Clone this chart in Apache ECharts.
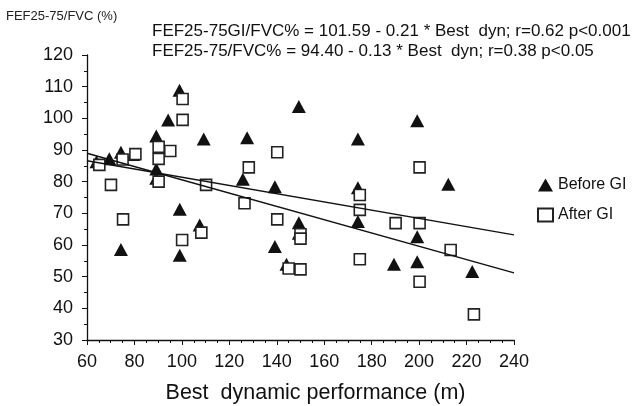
<!DOCTYPE html>
<html>
<head>
<meta charset="utf-8">
<script src="https://cdn.jsdelivr.net/npm/echarts@6/dist/echarts.min.js"></script>
<style>
  html, body { margin: 0; padding: 0; background: #fff; }
  #chart { width: 636px; height: 406px; }
</style>
</head>
<body>
<div id="chart"></div>
<script>
// Before GI (triangles): [best dynamic performance, FEF25-75/FVC %]
const beforeGI = [
  [64, 86.3], [69.4, 87.2], [74.3, 89.3], [79.4, 88.6], [74.3, 58.6],
  [89.2, 94.4], [89.2, 84], [89.2, 81.1], [94.2, 99.5], [99, 108.9],
  [99.1, 71.3], [99.1, 56.8], [107.5, 66.3], [109.2, 93.5],
  [125.7, 80.8], [127.5, 93.9], [139.2, 78.4], [139.2, 59.5], [144.1, 53.9],
  [149.3, 103.7], [149.3, 67], [149.3, 63.7],
  [174.2, 93.5], [174.2, 78.1], [174.2, 67.4],
  [189.4, 53.9], [199.2, 99.2], [199.2, 62.6], [199.2, 54.7],
  [212.3, 79.2], [222.4, 51.6]
];
// After GI (squares)
const afterGI = [
  [65.2, 85.3], [70.1, 79], [75.2, 68.1], [75, 87], [80.4, 88.7],
  [90.2, 91], [90.2, 87.2], [90.2, 80], [95.1, 89.7],
  [100.3, 106.1], [100.3, 99.5], [100.1, 61.6], [108.2, 63.9], [110.2, 79],
  [126.4, 73.2], [128.2, 84.5], [140.2, 89.3], [140.2, 68.1], [145, 52.6],
  [150, 63.4], [150, 62], [150, 52.3],
  [175, 75.8], [175, 71.1], [175, 55.5],
  [190.1, 66.9], [200.2, 84.5], [200.2, 66.9], [200.2, 48.4],
  [213.3, 58.4], [223.1, 38.1]
];
// regression equations printed on the chart: [intercept, slope]
const fitGI = [101.59, -0.21];
const fitPre = [94.40, -0.13];
const fitRange = [60, 240];
const equations = [
  'FEF25-75GI/FVC% = 101.59 - 0.21 * Best  dyn; r=0.62 p<0.001',
  'FEF25-75/FVC% = 94.40 - 0.13 * Best  dyn; r=0.38 p<0.05'
];

function fitLine(fit) {
  return fitRange.map(x => [x, fit[0] + fit[1] * x]);
}

const font = '"Liberation Sans", Arial, sans-serif';
const chart = echarts.init(document.getElementById('chart'));

chart.setOption({
  animation: false,
  title: {
    text: 'FEF25-75/FVC (%)',
    left: 1,
    top: 5,
    textStyle: { fontFamily: font, fontSize: 13, fontWeight: 'normal', color: '#222' }
  },
  graphic: [
    {
      type: 'text', left: 152, top: 23,
      style: { text: equations[0], font: '17px ' + font, fill: '#111' }
    },
    {
      type: 'text', left: 152, top: 43,
      style: { text: equations[1], font: '17px ' + font, fill: '#111' }
    }
  ],
  legend: {
    data: ['Before GI', 'After GI'],
    orient: 'vertical',
    left: 532,
    top: 172,
    itemWidth: 15,
    itemHeight: 13,
    itemGap: 14,
    textStyle: { fontFamily: font, fontSize: 16, color: '#111' }
  },
  grid: { left: 87, right: 122, top: 55, bottom: 66, outerBoundsMode: 'none' },
  xAxis: {
    type: 'value',
    min: 60, max: 240, interval: 20,
    name: 'Best  dynamic performance (m)',
    nameLocation: 'middle',
    nameGap: 42,
    nameTextStyle: { fontFamily: font, fontSize: 21.5, color: '#111', padding: [0, 0, 0, 30] },
    axisLine: { lineStyle: { color: '#111', width: 1.3 } },
    axisTick: { length: 5, lineStyle: { color: '#111' } },
    minorTick: { show: true, splitNumber: 4, length: 3, lineStyle: { color: '#111' } },
    splitLine: { show: false },
    axisLabel: { fontFamily: font, fontSize: 18, color: '#111', margin: 13 }
  },
  yAxis: {
    type: 'value',
    min: 30, max: 120, interval: 10,
    axisLine: { show: true, lineStyle: { color: '#111', width: 1.3 } },
    axisTick: { show: true, length: 5, lineStyle: { color: '#111' } },
    minorTick: { show: true, splitNumber: 2, length: 3, lineStyle: { color: '#111' } },
    splitLine: { show: false },
    axisLabel: { fontFamily: font, fontSize: 18, color: '#111', margin: 14 }
  },
  series: [
    {
      name: 'fitGI', type: 'line', data: fitLine(fitGI),
      symbol: 'none', silent: true,
      lineStyle: { color: '#111', width: 1.5 }
    },
    {
      name: 'fitPre', type: 'line', data: fitLine(fitPre),
      symbol: 'none', silent: true,
      lineStyle: { color: '#111', width: 1.5 }
    },
    {
      name: 'Before GI', type: 'scatter', data: beforeGI,
      symbol: 'triangle', symbolSize: [14, 13],
      itemStyle: { color: '#111', opacity: 1 }
    },
    {
      name: 'After GI', type: 'scatter', data: afterGI,
      symbol: 'rect', symbolSize: [11, 11],
      itemStyle: { color: '#fff', borderColor: '#222', borderWidth: 1.6, opacity: 1 }
    }
  ]
});
</script>
</body>
</html>
